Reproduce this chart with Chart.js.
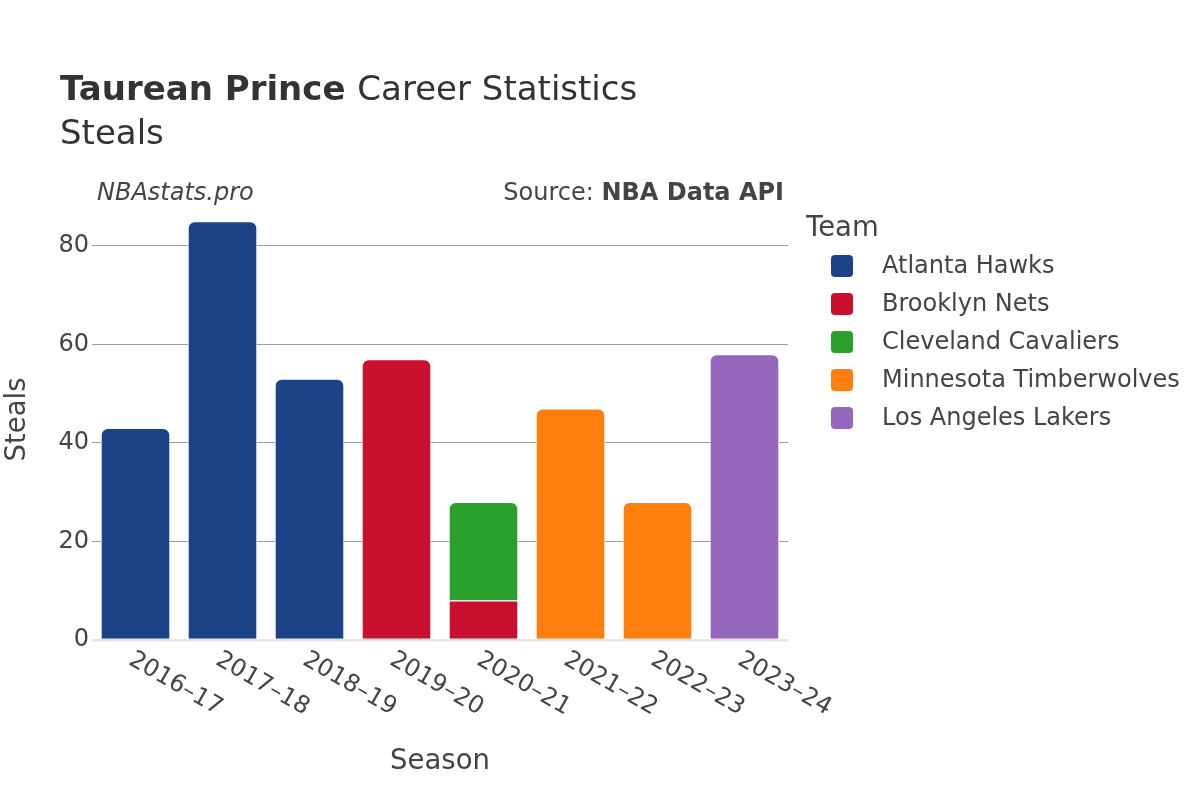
<!DOCTYPE html>
<html>
<head>
<meta charset="utf-8">
<script src="https://cdn.jsdelivr.net/npm/chart.js@4"></script>
<style>
html,body{margin:0;padding:0;background:#fff;}
#wrap{width:1200px;height:800px;}
</style>
</head>
<body>
<div id="wrap"><canvas id="c" width="1200" height="800"></canvas></div>
<script>
const seasons = ['2016–17','2017–18','2018–19','2019–20','2020–21','2021–22','2022–23','2023–24'];
const teams = ['Atlanta Hawks','Brooklyn Nets','Cleveland Cavaliers','Minnesota Timberwolves','Los Angeles Lakers'];
const teamColors = ['#1d4288','#c8102e','#2ca02c','#ff7f0e','#9467bd'];
const hawks  = [43, 85, 53, null, null, null, null, null];
const nets   = [null, null, null, 57, 8, null, null, null];
const cavs   = [null, null, null, null, 20, null, null, null];
const wolves = [null, null, null, null, null, 47, 28, null];
const lakers = [null, null, null, null, null, null, null, 58];
const yTicks = [0, 20, 40, 60, 80];
const seriesValues = [hawks, nets, cavs, wolves, lakers];

const FONT = "'DejaVu Sans', sans-serif";
const TEXT = '#444';

function isTopOfStack(ctx) {
  const i = ctx.dataIndex, d = ctx.datasetIndex;
  for (let k = d + 1; k < seriesValues.length; k++) {
    if (seriesValues[k][i] !== null && seriesValues[k][i] !== undefined) return false;
  }
  return true;
}

const datasets = teams.map((t, k) => ({
  label: t,
  data: seriesValues[k],
  backgroundColor: teamColors[k],
  borderColor: '#ffffff',
  borderWidth: 1,
  borderSkipped: 'start',
  borderRadius: (ctx) => isTopOfStack(ctx) ? {topLeft: 7, topRight: 7, bottomLeft: 0, bottomRight: 0} : 0,
  barPercentage: 0.8,
  categoryPercentage: 1.0,
  stack: 's'
}));

const decor = {
  id: 'decor',
  afterDraw(chart) {
    const ctx = chart.ctx;
    ctx.save();
    // Title
    ctx.fillStyle = '#333';
    ctx.textBaseline = 'alphabetic';
    ctx.textAlign = 'left';
    ctx.font = "bold 34px " + FONT;
    const t1 = 'Taurean Prince';
    ctx.fillText(t1, 60, 100);
    const w1 = ctx.measureText(t1 + ' ').width;
    ctx.font = "34px " + FONT;
    ctx.fillText('Career Statistics', 60 + w1, 100);
    ctx.fillText('Steals', 60, 144);
    // source line
    ctx.fillStyle = TEXT;
    ctx.font = "italic 24px " + FONT;
    ctx.fillText('NBAstats.pro', 97, 200);
    ctx.font = "bold 24px " + FONT;
    const bw = ctx.measureText('NBA Data API').width;
    ctx.textAlign = 'right';
    ctx.fillText('NBA Data API', 784, 200);
    ctx.font = "24px " + FONT;
    ctx.fillText('Source: ', 784 - bw, 200);
    // x tick labels, rotated
    const xs = chart.scales.x;
    ctx.font = "24px " + FONT;
    ctx.fillStyle = TEXT;
    ctx.textAlign = 'left';
    ctx.textBaseline = 'middle';
    seasons.forEach((s, i) => {
      const x = xs.getPixelForTick(i);
      ctx.save();
      ctx.translate(x - 5, 658);
      ctx.rotate(30 * Math.PI / 180);
      ctx.fillText(s, 0, 0);
      ctx.restore();
    });
    // legend
    ctx.textAlign = 'left';
    ctx.textBaseline = 'alphabetic';
    ctx.font = "27.5px " + FONT;
    ctx.fillStyle = TEXT;
    ctx.fillText('Team', 806, 236);
    ctx.font = "24px " + FONT;
    ctx.textBaseline = 'middle';
    chart.data.datasets.forEach((ds, k) => {
      const cy = 266 + 38 * k;
      ctx.fillStyle = ds.backgroundColor;
      ctx.beginPath();
      ctx.roundRect(831, cy - 11, 22, 22, 4);
      ctx.fill();
      ctx.fillStyle = TEXT;
      ctx.fillText(ds.label, 882, cy + 1);
    });
    ctx.restore();
  }
};

new Chart(document.getElementById('c'), {
  type: 'bar',
  data: { labels: seasons, datasets },
  plugins: [decor],
  options: {
    responsive: false,
    animation: false,
    devicePixelRatio: 1,
    layout: { padding: { top: 199, right: 412, bottom: 0, left: 0 } },
    plugins: { legend: { display: false }, tooltip: { enabled: false } },
    scales: {
      x: {
        stacked: true,
        grid: { display: false },
        border: { display: false },
        ticks: { display: false },
        afterFit(scale) { scale.height = 160; },
        title: {
          display: true, text: 'Season', color: TEXT,
          font: { family: FONT, size: 27.5 }, padding: { top: 0, bottom: 22 }
        }
      },
      y: {
        stacked: true,
        min: 0, max: 89.5,
        afterBuildTicks(scale) { scale.ticks = yTicks.map(v => ({ value: v })); },
        afterFit(scale) { scale.width = 92; },
        border: { display: false },
        grid: {
          drawTicks: false,
          color: (c) => c.tick && c.tick.value === 0 ? '#e6e6e6' : '#9c9c9c',
          lineWidth: (c) => c.tick && c.tick.value === 0 ? 2.5 : 1
        },
        ticks: {
          color: TEXT, padding: 3,
          font: { family: FONT, size: 24 }
        },
        title: {
          display: true, text: 'Steals', color: TEXT,
          font: { family: FONT, size: 27.5 }, padding: { top: 1, bottom: 0 }
        }
      }
    }
  }
});
</script>
</body>
</html>
